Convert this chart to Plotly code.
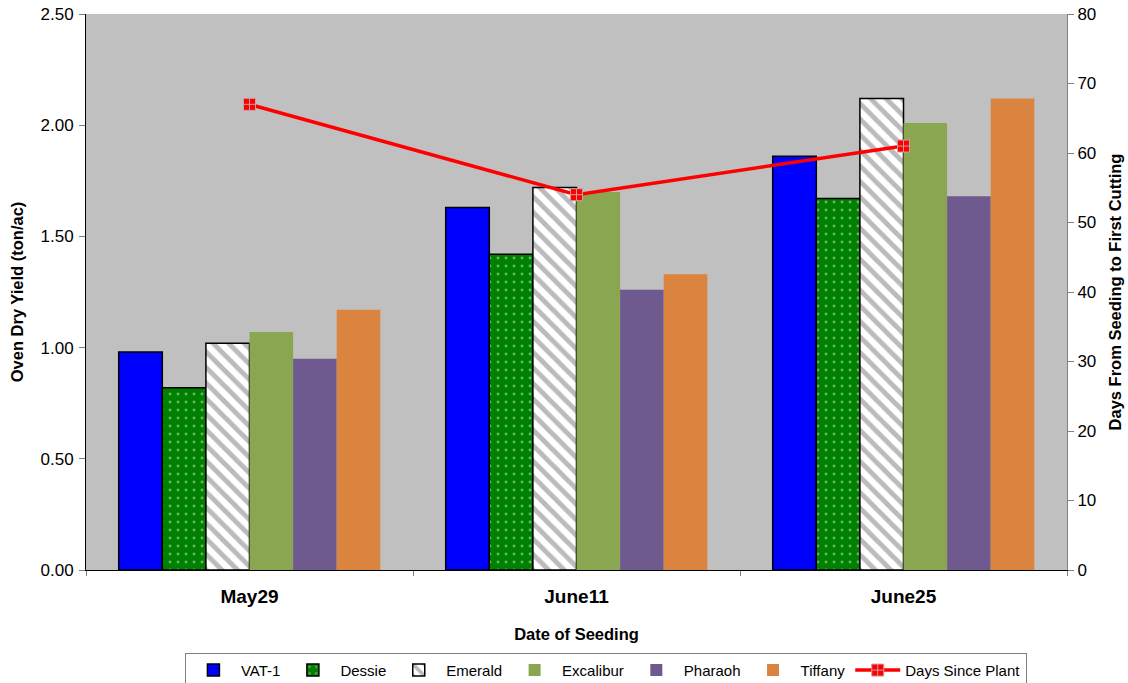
import plotly.graph_objects as go

categories = ["May29", "June11", "June25"]
vat1 = [0.98, 1.63, 1.86]
dessie = [0.82, 1.42, 1.67]
emerald = [1.02, 1.72, 2.12]
excalibur = [1.07, 1.70, 2.01]
pharaoh = [0.95, 1.26, 1.68]
tiffany = [1.17, 1.33, 2.12]
days_since_plant = [67, 54, 61]

fig = go.Figure()
fig.add_trace(go.Bar(name="VAT-1", x=categories, y=vat1,
                     marker=dict(color="#0000FF", line=dict(color="black", width=1.5))))
fig.add_trace(go.Bar(name="Dessie", x=categories, y=dessie,
                     marker=dict(color="#008000", line=dict(color="black", width=1.5),
                                 pattern=dict(shape=".", fgcolor="#D0E8D0", bgcolor="#008000",
                                              size=8, solidity=0.1))))
fig.add_trace(go.Bar(name="Emerald", x=categories, y=emerald,
                     marker=dict(color="white", line=dict(color="black", width=1.5),
                                 pattern=dict(shape="\\", fgcolor="#777777", bgcolor="white",
                                              size=11, solidity=0.45))))
fig.add_trace(go.Bar(name="Excalibur", x=categories, y=excalibur,
                     marker=dict(color="#8BA650", line=dict(width=0))))
fig.add_trace(go.Bar(name="Pharaoh", x=categories, y=pharaoh,
                     marker=dict(color="#6E5A8E", line=dict(width=0))))
fig.add_trace(go.Bar(name="Tiffany", x=categories, y=tiffany,
                     marker=dict(color="#DB843F", line=dict(width=0))))
fig.add_trace(go.Scatter(name="Days Since Plant", x=categories, y=days_since_plant,
                         yaxis="y2", mode="lines+markers",
                         line=dict(color="#FF0000", width=3.5),
                         marker=dict(symbol="square-cross", size=12, color="#FF0000",
                                     line=dict(color="#C8A0A0", width=1))))

font = "Liberation Sans, Arial, sans-serif"
fig.update_layout(
    width=1128, height=683,
    margin=dict(l=86, r=61, t=14, b=113, autoexpand=False),
    paper_bgcolor="white", plot_bgcolor="#C0C0C0",
    barmode="group", bargap=0.2, bargroupgap=0,
    font=dict(family=font, size=16, color="black"),
    xaxis=dict(
        title=dict(text="<b>Date of Seeding</b>", font=dict(size=16.5), standoff=22),
        tickfont=dict(size=19), tickprefix="<b>", ticksuffix="</b>",
        ticklabelstandoff=9,
        showline=True, linecolor="black", linewidth=1,
        ticks="outside", tickson="boundaries", ticklen=5, tickcolor="#808080",
        showgrid=False, zeroline=False,
    ),
    yaxis=dict(
        title=dict(text="<b>Oven Dry Yield (ton/ac)</b>", font=dict(size=16.5), standoff=12),
        range=[0, 2.5], dtick=0.5, tickformat=".2f", tickfont=dict(size=17),
        ticklabelstandoff=2,
        showline=True, linecolor="black", linewidth=1,
        ticks="outside", ticklen=6, tickcolor="#808080",
        showgrid=False, zeroline=False,
    ),
    yaxis2=dict(
        title=dict(text="<b>Days From Seeding to First Cutting</b>", font=dict(size=16.5), standoff=14),
        range=[0, 80], dtick=10, overlaying="y", side="right", tickfont=dict(size=17),
        showline=True, linecolor="#808080", linewidth=1,
        ticks="outside", ticklen=6, tickcolor="#808080",
        showgrid=False, zeroline=False,
    ),
    legend=dict(
        orientation="h", x=0.53, xanchor="center", y=-0.149, yanchor="top",
        bordercolor="#808080", borderwidth=1, font=dict(size=15),
        itemwidth=45, tracegroupgap=0,
    ),
)

fig.write_html("out.html")
